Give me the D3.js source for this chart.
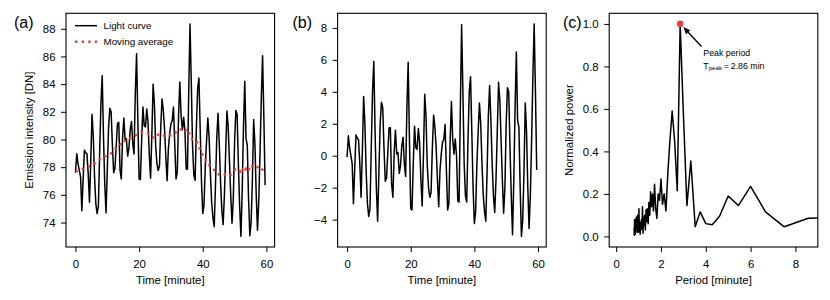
<!DOCTYPE html>
<html>
<head>
<meta charset="utf-8">
<script src="https://cdn.jsdelivr.net/npm/d3@7"></script>
<style>
  body { margin: 0; background: #fff; }
  svg { display: block; font-family: "Liberation Sans", Arial, Helvetica, sans-serif; }
  .tick text { font-size: 11.4px; fill: #000; }
  .tick line { stroke: #000; stroke-width: 1; }
  .domain { display: none; }
</style>
</head>
<body>
<script>
// ---------- DATA ----------
const timeMin = [0,0.4,0.8,1.2,1.6,2,2.4,2.8,3.2,3.6,4,4.4,4.8,5.2,5.6,6,6.4,6.8,7.2,7.6,8,8.4,8.8,9.2,9.6,10,10.4,10.8,11.2,11.6,12,12.4,12.8,13.2,13.6,14,14.4,14.8,15.2,15.6,16,16.4,16.8,17.2,17.6,18,18.4,18.8,19.2,19.6,20,20.4,20.8,21.2,21.6,22,22.4,22.8,23.2,23.6,24,24.4,24.8,25.2,25.6,26,26.4,26.8,27.2,27.6,28,28.4,28.8,29.2,29.6,30,30.4,30.8,31.2,31.6,32,32.4,32.8,33.2,33.6,34,34.4,34.8,35.2,35.6,36,36.4,36.8,37.2,37.6,38,38.4,38.8,39.2,39.6,40,40.4,40.8,41.2,41.6,42,42.4,42.8,43.2,43.6,44,44.4,44.8,45.2,45.6,46,46.4,46.8,47.2,47.6,48,48.4,48.8,49.2,49.6,50,50.4,50.8,51.2,51.6,52,52.4,52.8,53.2,53.6,54,54.4,54.8,55.2,55.6,56,56.4,56.8,57.2,57.6,58,58.4,58.8,59.2,59.6];

const lightCurve = [77.6,78.97,78.25,77.78,77.3,74.85,77.1,79.23,79.05,78.98,77.52,75.46,78.4,81.82,80.18,77.25,75.35,74.65,75.2,79.05,82.62,84.6,80.25,76.78,74.7,77.83,80.86,82.25,82.0,79.6,77.6,77.9,79.55,81.15,81.25,77.8,77.15,80.1,81.55,80.0,80.05,78.8,79.4,80.7,81.3,79.7,78.95,83.3,86.2,81.4,77.15,77.1,80.0,82.35,81.0,80.9,82.2,81.25,78.9,77.2,80.3,84.0,82.6,79.55,78.25,77.75,78.1,80.9,82.93,82.1,80.75,78.7,77.02,79.35,80.4,81.15,81.35,82.35,79.65,77.15,77.65,81.75,84.15,81.7,80.7,81.6,80.6,77.86,77.85,83.6,88.35,84.1,79.5,77.45,77.05,80.9,83.7,84.45,80.7,77.0,74.65,75.3,78.1,79.9,81.55,80.15,77.55,75.45,74.35,73.7,76.7,80.1,81.9,79.65,76.9,74.88,73.85,75.95,79.0,82.05,80.9,78.38,75.95,73.95,75.7,79.8,82.1,81.8,78.2,75.15,73.0,76.3,80.9,84.2,80.08,79.55,75.7,73.05,74.0,77.1,81.45,79.65,76.05,73.45,75.55,79.05,82.95,86.05,81.65,76.7];

const movingAverage = [77.7,77.72,77.75,77.78,77.8,77.85,77.9,77.93,77.95,77.98,78.02,78.06,78.1,78.12,78.18,78.25,78.35,78.45,78.5,78.55,78.62,78.7,78.75,78.78,78.8,78.83,78.86,78.9,79.0,79.1,79.2,79.3,79.35,79.4,79.5,79.6,79.75,79.9,79.95,79.9,79.85,79.9,80.0,80.1,80.15,80.2,80.25,80.3,80.35,80.4,80.45,80.5,80.5,80.5,80.5,80.5,80.5,80.45,80.4,80.35,80.3,80.15,80.1,80.15,80.25,80.35,80.4,80.4,80.38,80.3,80.25,80.2,80.22,80.25,80.3,80.3,80.35,80.4,80.45,80.55,80.65,80.75,80.75,80.7,80.6,80.55,80.6,80.7,80.75,80.6,80.15,80.1,80.0,79.95,79.95,79.9,79.7,79.5,79.2,79.0,78.9,78.8,78.6,78.4,78.25,78.15,78.05,77.95,77.85,77.8,77.7,77.6,77.5,77.45,77.4,77.38,77.4,77.45,77.5,77.45,77.4,77.38,77.45,77.55,77.7,77.8,77.85,77.8,77.7,77.65,77.95,77.8,77.9,77.7,77.88,77.75,77.7,78.1,78.0,78.1,78.15,78.15,78.05,78.0,78.05,78.05,77.95,77.8,77.65,77.6];

const detrended = [-0.1,1.25,0.5,0.0,-0.5,-3.0,-0.8,1.3,1.1,1.0,-0.5,-2.6,0.3,3.7,2.0,-1.0,-3.0,-3.8,-3.3,0.5,4.0,5.9,1.5,-2.0,-4.1,-1.0,2.0,3.35,3.0,0.5,-1.6,-1.4,0.2,1.75,1.75,-1.8,-2.6,0.2,1.6,0.1,0.2,-1.1,-0.6,0.6,1.15,-0.5,-1.3,3.0,5.85,1.0,-3.3,-3.4,-0.5,1.85,0.5,0.4,1.7,0.8,-1.5,-3.15,0.0,3.85,2.5,-0.6,-2.0,-2.6,-2.3,0.5,2.55,1.8,0.5,-1.5,-3.2,-0.9,0.1,0.85,1.0,1.95,-0.8,-3.4,-3.0,1.0,3.4,1.0,0.1,1.05,0.0,-2.84,-2.9,3.0,8.2,4.0,-0.5,-2.5,-2.9,1.0,4.0,4.95,1.5,-2.0,-4.25,-3.5,-0.5,1.5,3.3,2.0,-0.5,-2.5,-3.5,-4.1,-1.0,2.5,4.4,2.2,-0.5,-2.5,-3.55,-1.5,1.5,4.6,3.5,1.0,-1.5,-3.6,-2.0,2.0,4.25,4.0,0.5,-2.5,-4.95,-1.5,3.0,6.5,2.2,1.8,-2.0,-5.05,-4.0,-1.0,3.3,1.5,-2.0,-4.55,-2.5,1.0,5.0,8.25,4.0,-0.9];

const periodMin = [0.8,0.811,0.822,0.833,0.845,0.857,0.87,0.882,0.896,0.909,0.923,0.938,0.952,0.968,0.984,1.0,1.017,1.034,1.053,1.071,1.091,1.111,1.132,1.154,1.176,1.2,1.224,1.25,1.277,1.304,1.333,1.364,1.395,1.429,1.463,1.5,1.538,1.579,1.622,1.667,1.714,1.765,1.818,1.875,1.935,2.0,2.069,2.143,2.222,2.308,2.4,2.5,2.609,2.727,2.857,3.0,3.158,3.333,3.529,3.75,4.0,4.286,4.615,5.0,5.455,6.0,6.667,7.5,8.571,10.0];
const normPower = [0.04,0.005,0.08,0.03,0.06,0.01,0.075,0.04,0.09,0.03,0.05,0.02,0.1,0.035,0.06,0.02,0.13,0.045,0.07,0.01,0.06,0.03,0.08,0.04,0.14,0.015,0.09,0.05,0.1,0.03,0.125,0.07,0.13,0.06,0.16,0.1,0.21,0.14,0.2,0.12,0.245,0.13,0.085,0.2,0.17,0.27,0.15,0.2,0.12,0.3,0.45,0.59,0.45,0.215,1.0,0.58,0.145,0.355,0.045,0.115,0.06,0.055,0.095,0.19,0.145,0.235,0.115,0.045,0.085,0.088];

const peakPeriod = 2.857;
const peakPower = 1.0;

const ticksA_x = [0,20,40,60], ticksA_y = [74,76,78,80,82,84,86,88];
const ticksB_x = [0,20,40,60], ticksB_y = [-4,-2,0,2,4,6,8];
const ticksC_x = [0,2,4,6,8], ticksC_y = [0,0.2,0.4,0.6,0.8,1.0];
const legendLabels = ["Light curve", "Moving average"];

// ---------- LAYOUT ----------
const W = 830, H = 300;
const yTop = 13.3, yBot = 247, pw = 208.6;
const lefts = [66, 337.6, 609.2];
const red = "#e8403c";
const minus = s => String(s).replace("-", "\u2212");

const svg = d3.select("body").append("svg").attr("width", W).attr("height", H);

function pad(ext, f = 0.05) { const r = ext[1] - ext[0]; return [ext[0] - r * f, ext[1] + r * f]; }

function makePanel(i, xDom, yDom, xt, yt, xfmt, yfmt, xlabel, ylabel, ylabelX, tag, tagX) {
  const L = lefts[i];
  const x = d3.scaleLinear().domain(xDom).range([L, L + pw]);
  const y = d3.scaleLinear().domain(yDom).range([yBot, yTop]);
  const g = svg.append("g");
  g.append("clipPath").attr("id", "clip" + i).append("rect")
    .attr("x", L).attr("y", yTop).attr("width", pw).attr("height", yBot - yTop);
  const xa = g.append("g").attr("transform", `translate(0,${yBot})`)
    .call(d3.axisBottom(x).tickValues(xt).tickFormat(xfmt).tickSize(5).tickSizeOuter(0).tickPadding(5));
  xa.selectAll(".tick text").attr("dy", "0.93em");
  g.append("g").attr("transform", `translate(${L},0)`)
    .call(d3.axisLeft(y).tickValues(yt).tickFormat(yfmt).tickSize(5).tickSizeOuter(0).tickPadding(5.5));
  g.append("text").attr("x", L + pw / 2).attr("y", 283.5).attr("text-anchor", "middle")
    .attr("font-size", 11.4).text(xlabel);
  if (ylabel) {
    g.append("text").attr("transform", `translate(${ylabelX},${(yTop + yBot) / 2}) rotate(-90)`)
      .attr("text-anchor", "middle").attr("font-size", 11.4).text(ylabel);
  }
  g.append("text").attr("x", tagX).attr("y", 27.5).attr("font-size", 16).text(tag);
  const plot = g.append("g").attr("clip-path", `url(#clip${i})`);
  const frame = () => g.append("rect").attr("x", L).attr("y", yTop).attr("width", pw)
    .attr("height", yBot - yTop).attr("fill", "none").attr("stroke", "#000").attr("stroke-width", 1.1);
  return { x, y, g, plot, frame };
}

// Panel (a)
const pA = makePanel(0, pad(d3.extent(timeMin)), pad(d3.extent(lightCurve)),
  ticksA_x, ticksA_y, d3.format("d"), d3.format("d"),
  "Time [minute]", "Emission intensity [DN]", 33, "(a)", 14);
pA.plot.append("path").datum(timeMin.map((t, j) => [t, lightCurve[j]]))
  .attr("d", d3.line().x(d => pA.x(d[0])).y(d => pA.y(d[1])))
  .attr("fill", "none").attr("stroke", "#000").attr("stroke-width", 1.5).attr("stroke-linejoin", "round");
pA.plot.append("path").datum(timeMin.map((t, j) => [t, movingAverage[j]]))
  .attr("d", d3.line().x(d => pA.x(d[0])).y(d => pA.y(d[1])))
  .attr("fill", "none").attr("stroke", red).attr("stroke-width", 2.4).attr("stroke-dasharray", "2.4 4.2");
pA.frame();
// legend
const lg = pA.g.append("g");
lg.append("line").attr("x1", 75).attr("x2", 97).attr("y1", 25.7).attr("y2", 25.7)
  .attr("stroke", "#000").attr("stroke-width", 1.5);
lg.append("line").attr("x1", 75).attr("x2", 97).attr("y1", 41.7).attr("y2", 41.7)
  .attr("stroke", red).attr("stroke-width", 2.4).attr("stroke-dasharray", "2.4 4.2");
legendLabels.forEach((s, j) => lg.append("text").attr("x", 103.5).attr("y", 29.3 + j * 16)
  .attr("font-size", 9.8).text(s));

// Panel (b)
const pB = makePanel(1, pad(d3.extent(timeMin)), pad(d3.extent(detrended)),
  ticksB_x, ticksB_y, d3.format("d"), d => minus(d3.format("d")(d)),
  "Time [minute]", null, 0, "(b)", 292.5);
pB.plot.append("path").datum(timeMin.map((t, j) => [t, detrended[j]]))
  .attr("d", d3.line().x(d => pB.x(d[0])).y(d => pB.y(d[1])))
  .attr("fill", "none").attr("stroke", "#000").attr("stroke-width", 1.5).attr("stroke-linejoin", "round");
pB.frame();

// Panel (c)
const pC = makePanel(2, [-0.31, 9], pad([0, 1]),
  ticksC_x, ticksC_y, d3.format("d"), d3.format(".1f"),
  "Period [minute]", "Normalized power", 573, "(c)", 563);
pC.plot.append("path").datum(periodMin.map((p, j) => [p, normPower[j]]))
  .attr("d", d3.line().x(d => pC.x(d[0])).y(d => pC.y(d[1])))
  .attr("fill", "none").attr("stroke", "#000").attr("stroke-width", 1.5).attr("stroke-linejoin", "round");
pC.frame();
const px = pC.x(peakPeriod), py = pC.y(peakPower);
pC.g.append("circle").attr("cx", px).attr("cy", py).attr("r", 3.3).attr("fill", red);
// arrow
const tail = [701.5, 46.5], tip = [px + 3.2, py + 3.2];
const ang = Math.atan2(tip[1] - tail[1], tip[0] - tail[0]);
const hl = 7, hw = 3;
const base = [tip[0] - hl * Math.cos(ang), tip[1] - hl * Math.sin(ang)];
pC.g.append("line").attr("x1", tail[0]).attr("y1", tail[1]).attr("x2", base[0]).attr("y2", base[1])
  .attr("stroke", "#000").attr("stroke-width", 1.4);
pC.g.append("path").attr("d", d3.line()([
  tip,
  [base[0] + hw * Math.sin(ang), base[1] - hw * Math.cos(ang)],
  [base[0] - hw * Math.sin(ang), base[1] + hw * Math.cos(ang)]
])).attr("fill", "#000");
pC.g.append("text").attr("x", 703.3).attr("y", 56).attr("font-size", 8.8).text("Peak period");
const t2 = pC.g.append("text").attr("x", 703.3).attr("y", 68.5).attr("font-size", 8.8);
t2.append("tspan").text("T");
t2.append("tspan").attr("font-size", 6.2).attr("dy", 1.6).text("peak");
t2.append("tspan").attr("dy", -1.6).text("\u2009=\u20092.86 min");
</script>
</body>
</html>
